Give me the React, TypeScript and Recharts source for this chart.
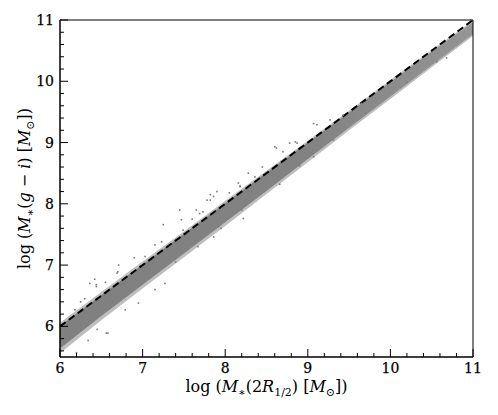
import React from "react";
import {
  ComposedChart,
  Area,
  Scatter,
  Line,
  XAxis,
  YAxis,
  ReferenceArea,
  Label,
} from "recharts";

// ---- data ----
const bandX = [6.0, 6.5, 7.0, 7.5, 8.0, 8.5, 9.0, 9.5, 10.0, 10.5, 11.0];
const coreLo = [5.64, 6.17, 6.68, 7.19, 7.7, 8.21, 8.73, 9.24, 9.75, 10.26, 10.77];
const coreHi = [6.01, 6.51, 7.01, 7.51, 8.01, 8.51, 9.0, 9.49, 9.99, 10.48, 10.96];
const fuzzLo = [5.56, 6.1, 6.62, 7.13, 7.64, 8.16, 8.68, 9.2, 9.71, 10.23, 10.74];
const fuzzHi = [6.06, 6.56, 7.06, 7.55, 8.05, 8.54, 9.03, 9.52, 10.02, 10.51, 10.99];

const outX = [
  6.36, 6.42, 6.44, 6.44, 6.69, 6.7, 6.71, 7.03, 7.15, 7.23, 7.25, 7.47, 7.49, 7.45,
  7.65, 7.78, 7.82, 7.9, 8.18, 8.28, 8.36, 8.6, 8.62, 8.78, 8.85, 8.87, 9.07, 9.11,
  9.27, 9.43, 9.65, 6.18, 6.25, 6.3, 6.55, 6.9, 7.6, 8.05, 8.45, 8.7,
  6.2, 6.34, 6.56, 6.58, 6.79, 6.95, 7.15, 7.27, 7.67, 7.86, 8.2, 8.66, 9.07, 9.31,
  10.56, 10.68, 6.45, 7.4, 7.95, 8.9, 9.7, 10.2,
  7.82, 7.86, 8.16, 8.18, 7.73, 7.69, 8.22, 7.92,
];
const outY = [
  6.7, 6.77, 6.65, 6.68, 6.87, 6.89, 7.0, 7.14, 7.33, 7.38, 7.66, 7.74, 7.57, 7.9,
  7.9, 8.06, 8.06, 8.2, 8.29, 8.5, 8.44, 8.93, 8.91, 8.99, 9.01, 8.99, 9.31, 9.29,
  9.37, 9.45, 9.64, 6.27, 6.4, 6.45, 6.72, 7.12, 7.75, 8.18, 8.6, 8.85,
  5.57, 5.77, 5.89, 5.89, 6.27, 6.38, 6.6, 6.7, 7.3, 7.46, 7.9, 8.32, 8.77, 9.04,
  10.32, 10.38, 5.95, 7.05, 7.6, 8.62, 9.48, 9.98,
  8.15, 8.12, 8.34, 8.28, 7.87, 7.84, 7.76, 7.63,
];

const lineX = [6, 11];
const lineY = [6, 11];

const xTicks = [6, 6.2, 6.4, 6.6, 6.8, 7, 7.2, 7.4, 7.6, 7.8, 8, 8.2, 8.4, 8.6, 8.8, 9, 9.2, 9.4, 9.6, 9.8, 10, 10.2, 10.4, 10.6, 10.8, 11];
const yTicks = [5.6, 5.8, 6, 6.2, 6.4, 6.6, 6.8, 7, 7.2, 7.4, 7.6, 7.8, 8, 8.2, 8.4, 8.6, 8.8, 9, 9.2, 9.4, 9.6, 9.8, 10, 10.2, 10.4, 10.6, 10.8, 11];

// ---- tables for the library ----
const bandData = bandX.map((x, i) => ({
  x,
  core: [coreLo[i], coreHi[i]],
  fuzz: [fuzzLo[i], fuzzHi[i]],
}));
const outData = outX.map((x, i) => ({ x, y: outY[i] }));
const lineData = lineX.map((x, i) => ({ x, y: lineY[i] }));

const FONT = "'DejaVu Serif', serif";
const isMajor = (v: number) => Math.abs(v - Math.round(v)) < 1e-6;

const XTick = (props: any) => {
  const { x, y, payload } = props;
  const v = payload.value;
  const major = isMajor(v);
  return (
    <g>
      <line x1={x} x2={x} y1={y} y2={y - (major ? 8 : 4)} stroke="#000" strokeWidth={1} />
      {major && (
        <text x={x} y={y + 16} textAnchor="middle" fontSize={14} fontFamily={FONT} fill="#000" stroke="#000" strokeWidth={0.25}>
          {Math.round(v)}
        </text>
      )}
    </g>
  );
};

const YTick = (props: any) => {
  const { x, y, payload } = props;
  const v = payload.value;
  const major = isMajor(v);
  return (
    <g>
      <line x1={x} x2={x + (major ? 8 : 4)} y1={y} y2={y} stroke="#000" strokeWidth={1} />
      {major && (
        <text x={x - 6} y={y + 5} textAnchor="end" fontSize={14} fontFamily={FONT} fill="#000" stroke="#000" strokeWidth={0.25}>
          {Math.round(v)}
        </text>
      )}
    </g>
  );
};

const XLabel = (props: any) => {
  const vb = props.viewBox || { x: 52, y: 349, width: 413, height: 45 };
  const cx = vb.x + vb.width / 2;
  const by = vb.y + 35;
  return (
    <text x={cx} y={by} textAnchor="middle" fontSize={16} fontFamily={FONT} fill="#000">
      log (<tspan fontStyle="italic">M</tspan>
      <tspan dy={4} fontSize={11}>∗</tspan>
      <tspan dy={-4}>(2</tspan>
      <tspan fontStyle="italic">R</tspan>
      <tspan dy={4} fontSize={11}>1/2</tspan>
      <tspan dy={-4}>) [</tspan>
      <tspan fontStyle="italic">M</tspan>
      <tspan dy={4} fontSize={11}>⊙</tspan>
      <tspan dy={-4}>])</tspan>
    </text>
  );
};

const YLabel = (props: any) => {
  const vb = props.viewBox || { x: 0, y: 12, width: 52, height: 337 };
  const cx = 22;
  const cy = vb.y + vb.height / 2;
  return (
    <text
      x={cx}
      y={cy}
      transform={`rotate(-90 ${cx} ${cy})`}
      textAnchor="middle"
      fontSize={16}
      fontFamily={FONT}
      fill="#000"
    >
      log (<tspan fontStyle="italic">M</tspan>
      <tspan dy={4} fontSize={11}>∗</tspan>
      <tspan dy={-4}>(</tspan>
      <tspan fontStyle="italic">g</tspan>
      <tspan> − </tspan>
      <tspan fontStyle="italic">i</tspan>
      <tspan>) [</tspan>
      <tspan fontStyle="italic">M</tspan>
      <tspan dy={4} fontSize={11}>⊙</tspan>
      <tspan dy={-4}>])</tspan>
    </text>
  );
};

const Dot = (props: any) => {
  const { cx, cy } = props;
  if (cx == null || cy == null) return null;
  return <rect x={cx - 0.8} y={cy - 0.8} width={1.6} height={1.6} fill="#7a7a7a" />;
};

export default function App() {
  return (
    <div style={{ width: 490, height: 400, background: "#fff" }}>
      <ComposedChart
        width={490}
        height={400}
        data={bandData}
        margin={{ top: 12, right: 25, bottom: 6, left: 0 }}
      >
        <defs>
          <linearGradient id="bandGrad" x1="0" y1="0" x2="1" y2="0">
            <stop offset="0%" stopColor="#808080" stopOpacity={1} />
            <stop offset="60%" stopColor="#808080" stopOpacity={0.97} />
            <stop offset="100%" stopColor="#8a8a8a" stopOpacity={0.8} />
          </linearGradient>
        </defs>
        <XAxis
          type="number"
          dataKey="x"
          domain={[6, 11]}
          ticks={xTicks}
          interval={0}
          allowDataOverflow
          height={45}
          tickSize={0}
          tickMargin={0}
          tick={<XTick />}
          axisLine={{ stroke: "#000", strokeWidth: 1 }}
          tickLine={false}
        >
          <Label content={<XLabel />} />
        </XAxis>
        <YAxis
          type="number"
          domain={[5.5, 11]}
          ticks={yTicks}
          interval={0}
          allowDataOverflow
          width={52}
          tickSize={0}
          tickMargin={0}
          tick={<YTick />}
          axisLine={{ stroke: "#000", strokeWidth: 1 }}
          tickLine={false}
        >
          <Label content={<YLabel />} />
        </YAxis>
        <Area
          dataKey="fuzz"
          type="linear"
          stroke="none"
          fill="#888888"
          fillOpacity={0.55}
          isAnimationActive={false}
          dot={false}
          activeDot={false}
        />
        <Area
          dataKey="core"
          type="linear"
          stroke="none"
          fill="url(#bandGrad)"
          fillOpacity={1}
          isAnimationActive={false}
          dot={false}
          activeDot={false}
        />
        <Scatter data={outData} dataKey="y" shape={<Dot />} isAnimationActive={false} />
        <Line
          data={lineData}
          dataKey="y"
          type="linear"
          stroke="#000"
          strokeWidth={2}
          strokeDasharray="7 4"
          dot={false}
          activeDot={false}
          isAnimationActive={false}
        />
        <ReferenceArea
          x1={6}
          x2={11}
          y1={5.5}
          y2={11}
          fill="none"
          fillOpacity={0}
          stroke="#000"
          strokeWidth={1}
        />
      </ComposedChart>
    </div>
  );
}
